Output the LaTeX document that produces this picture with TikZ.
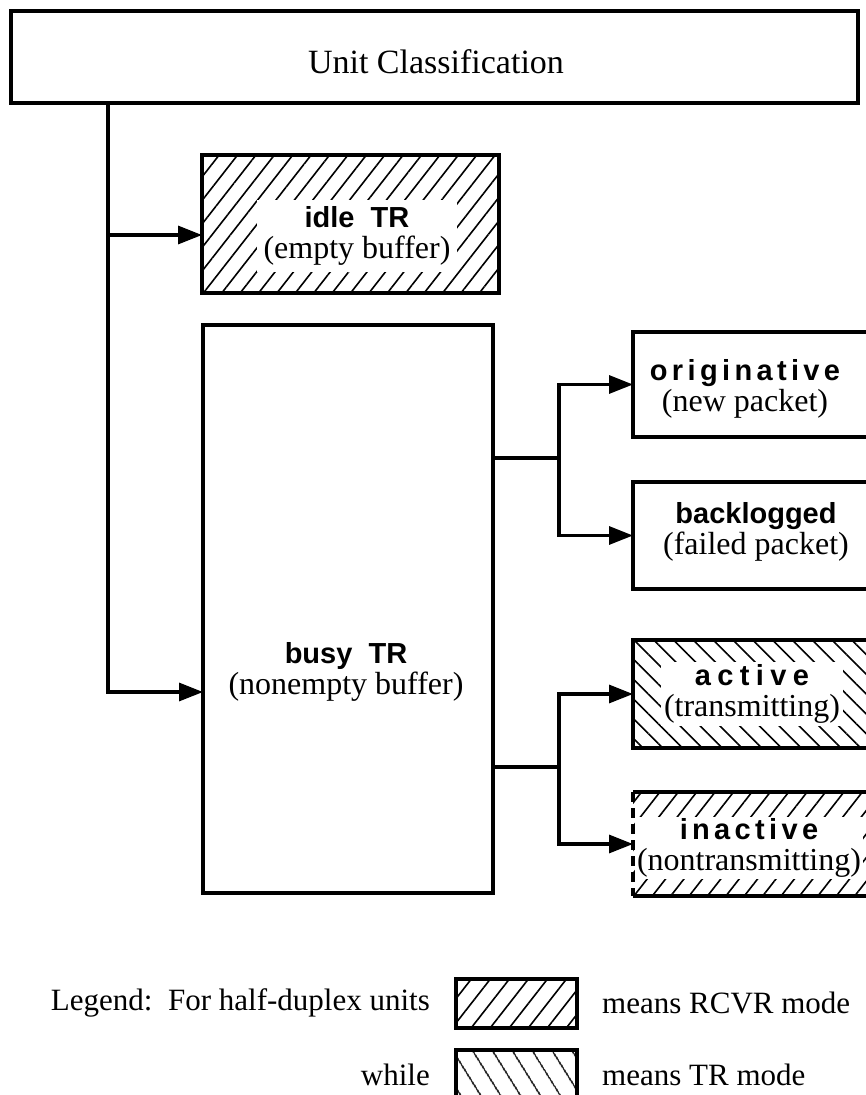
\documentclass[tikz,border=0pt]{standalone}
\usepackage{fontspec}
\setmainfont{Liberation Serif}
\newfontfamily\headfont{Liberation Sans}
\newfontfamily\spacedfont{Liberation Sans}[LetterSpace=15]
\newfontfamily\widefont{Liberation Sans}[LetterSpace=22]
\newcommand\mylbl{\headfont\bfseries\fontsize{29}{31}\selectfont}
\newcommand\myspc{\spacedfont\bfseries\fontsize{29}{31}\selectfont}
\newcommand\mywide{\widefont\bfseries\fontsize{29}{31}\selectfont}
\usetikzlibrary{patterns.meta,arrows.meta}
\begin{document}
\begin{tikzpicture}[x=1pt,y=-1pt,
  box/.style={draw, line width=3.4pt, inner sep=0pt, outer sep=0pt, anchor=north west},
  conn/.style={line width=3.2pt},
  arr/.style={conn, -{Triangle[length=24pt,width=18pt]}},
  txt/.style={align=center, font=\fontsize{32}{31}\selectfont, inner sep=4pt},
  wtxt/.style={txt, fill=white, inner sep=7pt},
  legtext/.style={txt, font=\fontsize{31}{31}\selectfont},
  hatchrcvr/.style={pattern={Lines[angle=52,distance=14.5pt,line width=1.6pt]}},
  hatchtr/.style={pattern={Lines[angle=-45,distance=14pt,line width=1.6pt]}},
]
\useasboundingbox (0,0) rectangle (865,1095);
% boxes
\node[box, minimum width=847pt, minimum height=92pt] (top) at (11,11) {};
\node[box, hatchrcvr, minimum width=297pt, minimum height=138pt] (idle) at (202,155) {};
\node[box, minimum width=290pt, minimum height=568pt] (busy) at (203,325) {};
\node[box, minimum width=250pt, minimum height=105pt] (orig) at (633,332) {};
\node[box, minimum width=250pt, minimum height=107pt] (back) at (633,482) {};
\node[box, hatchtr, minimum width=250pt, minimum height=108pt] (act) at (633,640) {};
\node[box, draw=none, hatchrcvr, minimum width=250pt, minimum height=104pt] (inact) at (633,792) {};
\draw[line width=3.4pt] (inact.north west) -- (inact.north east);
\draw[line width=3.4pt] (inact.south west) -- (inact.south east);
\draw[line width=3.4pt, dash pattern=on 10pt off 6pt] (inact.north west) -- (inact.south west);
% texts
\node[txt, font=\fontsize{34}{34}\selectfont] (toptxt) at (436,62) {Unit Classification};
\node[wtxt] (idletxt) at (357,236) {{\mylbl idle\ \ TR}\\(empty buffer)};
\node[txt] (busytxt) at (346,672) {{\mylbl busy\ \ TR}\\(nonempty buffer)};
\node[txt] (origtxt) at (745,389) {{\myspc originative}\\(new packet)};
\node[txt] (backtxt) at (756,532) {{\mylbl backlogged}\\(failed packet)};
\node[wtxt, inner sep=3pt] (acttxt) at (752,694) {{\mywide active}\\(transmitting)};
\node[wtxt, inner sep=2pt] (inacttxt) at (749,848) {{\myspc inactive}\\(nontransmitting)};
% connectors
\coordinate (tx) at (108,0);
\coordinate (iin) at (202,235);
\coordinate (bin) at (203,692);
\draw[arr] (top.south -| tx) |- (bin);
\draw[arr] (tx |- iin) -- (iin);
\coordinate (j1) at (559,458);
\coordinate (j2) at (559,767);
\draw[conn] (busy.east |- j1) -- (j1);
\draw[arr] (j1) |- (orig.west);
\draw[arr] (j1) |- (back.west);
\draw[conn] (busy.east |- j2) -- (j2);
\draw[arr] (j2) |- (act.west);
\draw[arr] (j2) |- (inact.west);
% legend
\node[box, pattern={Lines[angle=52,distance=15pt,line width=1.6pt]}, minimum width=121pt, minimum height=49pt] (leg1) at (456,979) {};
\node[box, pattern={Lines[angle=-58,distance=17pt,line width=1.6pt]}, minimum width=121pt, minimum height=50pt] (leg2) at (456,1050) {};
\node[legtext, anchor=east] (legtxt) at (434,1003) {Legend:\ \ For half-duplex units};
\node[legtext, anchor=west] (rcvrtxt) at (598,1003) {means RCVR mode};
\node[legtext, anchor=east] (whiletxt) at (434,1075) {while};
\node[legtext, anchor=west] (trtxt) at (598,1075) {means TR mode};
\end{tikzpicture}
\end{document}
